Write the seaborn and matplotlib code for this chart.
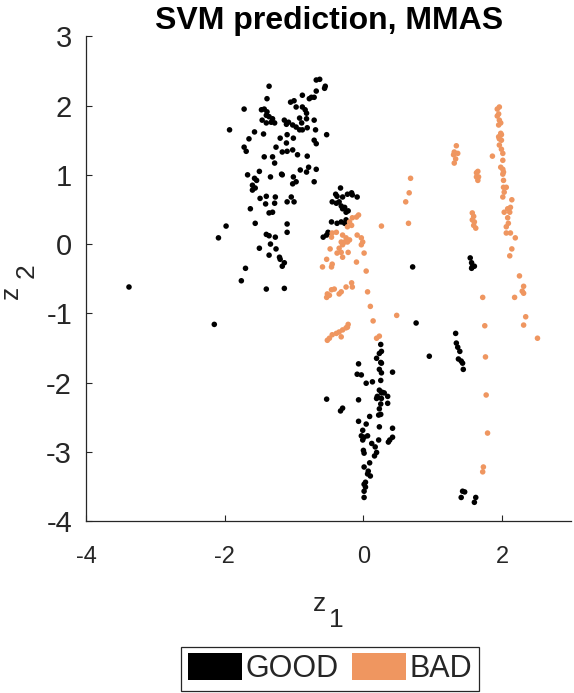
import numpy as np
import pandas as pd
import matplotlib
matplotlib.use("Agg")
import matplotlib.pyplot as plt
from matplotlib.patches import Patch
import seaborn as sns

# ---- data ----
good_z1 = [-0.63, -0.68, -0.55, -0.56, -0.68, -0.88, -0.75, -0.71, -0.78, -1.36,
           -1.39, -1.05, -1.00, -1.72, -0.97, -0.88, -0.84, -0.82, -1.47, -1.43,
           -1.39, -1.40, -1.36, -1.46, -1.40, -1.33, -1.28, -1.31, -1.14, -1.08,
           -1.11, -0.92, -0.82, -0.71, -1.02, -0.97, -0.92, -0.88, -0.81, -0.89,
           -1.93, -1.57, -1.44, -1.65, -1.20, -1.10, -1.11, -1.01, -0.69, -0.53,
           -0.71, -0.68, -1.72, -1.69, -1.26, -1.17, -1.10, -1.02, -1.43, -1.31,
           -0.95, -0.81, -1.28, -1.50, -0.91, -0.82, -0.79, -0.68, -1.67, -1.57,
           -1.54, -1.60, -1.60, -1.56, -1.34, -1.18, -1.17, -1.01, -0.97, -1.02,
           -0.71, -1.49, -1.40, -1.27, -1.28, -1.41, -1.04, -1.10, -1.00, -1.63,
           -1.36, -1.31, -1.56, -1.10, -1.10, -1.98, -2.09, -1.40, -1.36, -1.27,
           -1.34, -1.50, -1.26, -1.36, -1.21, -1.20, -1.14, -1.17, -1.70, -1.76,
           -1.40, -1.14, -3.38, -2.15,
           -0.33, -0.40, -0.38, -0.30, -0.23, -0.17, -0.16, -0.09, -0.45, -0.39,
           -0.35, -0.32, -0.30, -0.25, -0.22, -0.27, -0.46, -0.38, -0.32, -0.27,
           -0.25, -0.51, -0.53, -0.58, 0.71, 0.76, 0.25,
           0.26, 0.23, -0.07, 0.19, 0.25, 0.26, 0.23, 0.26, 0.42, -0.09,
           -0.03, 0.25, 0.04, 0.13, 0.23, 0.27, 0.26, 0.30, 0.35, 0.20,
           0.19, 0.26, -0.53, -0.07, 0.35, 0.25, 0.23, 0.25, 0.22, -0.30,
           -0.33, 0.09, -0.07, 0.04, 0.23, 0.42, -0.01, -0.03, -0.01, 0.06,
           0.01, 0.12, 0.22, 0.42, 0.38, 0.36, 0.17, 0.19, 0.16, 0.00,
           0.01, 0.09, 0.01, 0.07, 0.10, 0.06, 0.03, 0.01, 0.03, 0.01,
           0.01,
           1.54, 1.56, 1.57, 1.60, 1.56, 1.33, 1.34, 1.36, 1.39, 1.37,
           1.41, 1.43, 1.44, 0.95, 1.43, 1.41, 1.46, 1.62, 1.60]
good_z2 = [2.38, 2.37, 2.28, 2.25, 2.21, 2.15, 2.12, 2.12, 2.10, 2.28,
           2.10, 2.05, 2.07, 1.95, 1.98, 1.98, 1.94, 1.89, 1.94, 1.95,
           1.91, 1.86, 1.84, 1.79, 1.75, 1.76, 1.75, 1.81, 1.79, 1.76,
           1.73, 1.82, 1.81, 1.79, 1.72, 1.69, 1.65, 1.65, 1.68, 1.75,
           1.65, 1.62, 1.59, 1.52, 1.53, 1.58, 1.46, 1.53, 1.65, 1.58,
           1.50, 1.45, 1.40, 1.34, 1.40, 1.33, 1.34, 1.36, 1.26, 1.26,
           1.29, 1.27, 1.17, 1.05, 1.07, 1.04, 1.11, 1.08, 1.00, 0.95,
           0.92, 0.85, 0.78, 0.81, 0.97, 1.01, 1.00, 0.97, 0.90, 0.87,
           0.90, 0.66, 0.69, 0.68, 0.59, 0.58, 0.68, 0.61, 0.61, 0.51,
           0.45, 0.46, 0.30, 0.29, 0.17, 0.26, 0.09, 0.14, 0.12, 0.10,
           0.00, -0.06, -0.07, -0.16, -0.19, -0.22, -0.27, -0.32, -0.35, -0.53,
           -0.65, -0.64, -0.62, -1.16,
           0.81, 0.72, 0.69, 0.68, 0.72, 0.74, 0.71, 0.68, 0.61, 0.59,
           0.61, 0.55, 0.51, 0.46, 0.48, 0.53, 0.32, 0.30, 0.32, 0.30,
           0.35, 0.17, 0.13, 0.10, -0.33, -1.14, -1.45,
           -1.55, -1.58, -1.73, -1.65, -1.71, -1.72, -1.81, -1.86, -1.85, -1.88,
           -1.89, -1.97, -2.01, -1.99, -2.11, -2.14, -2.15, -2.15, -2.20, -2.20,
           -2.23, -2.23, -2.24, -2.25, -2.30, -2.31, -2.38, -2.46, -2.47, -2.37,
           -2.41, -2.49, -2.56, -2.60, -2.64, -2.66, -2.69, -2.77, -2.83, -2.77,
           -2.79, -2.88, -2.83, -2.79, -2.83, -2.86, -2.93, -3.01, -3.06, -2.98,
           -3.02, -3.16, -3.22, -3.28, -3.35, -3.32, -3.44, -3.47, -3.51, -3.57,
           -3.66,
           -0.20, -0.27, -0.33, -0.32, -0.35, -1.29, -1.43, -1.49, -1.55, -1.66,
           -1.69, -1.72, -1.81, -1.62, -3.57, -3.66, -3.58, -3.66, -3.73]

bad_z1 = [0.68, 0.66, 0.61, 0.65, 0.26, -0.07, -0.10, -0.16, -0.20, -0.17,
          -0.23, -0.39, -0.45, -0.46, -0.30, -0.25, -0.23, -0.27, -0.20, -0.32,
          -0.30, -0.09, -0.03, -0.01, -0.03, 0.01, -0.48, -0.35, -0.32, -0.38,
          -0.30, -0.22, -0.53, -0.45, -0.59, -0.46, -0.10, 0.04, -0.17, -0.16,
          -0.25, -0.32, -0.35, -0.42, -0.46, -0.52, -0.53, -0.49, 0.06, 0.10,
          0.14, 0.48, -0.22, -0.23, -0.25, -0.30, -0.35, -0.39, -0.45, -0.49,
          -0.52, -0.32, 0.23, 0.19,
          1.96, 1.93, 1.95, 1.93, 1.96, 1.98, 1.95, 1.98, 1.95, 1.99,
          1.96, 1.99, 1.96, 1.99, 2.01, 1.86, 2.01, 1.98, 2.01, 2.02,
          2.01, 2.02, 2.02, 2.06, 2.03, 2.01, 2.14, 2.12, 2.08, 2.03,
          2.11, 2.08, 2.09, 2.06, 2.06, 2.12, 2.19, 2.14, 2.11, 2.25,
          2.31, 2.29, 2.31, 2.18, 2.34, 2.31, 2.51,
          1.34, 1.31, 1.36, 1.30, 1.33, 1.31, 1.65, 1.63, 1.66, 1.65,
          1.63, 1.57, 1.59, 1.57, 1.60, 1.59, 1.62, 1.72, 1.75, 1.76,
          1.77, 1.79, 1.73, 1.72]
bad_z2 = [0.95, 0.74, 0.61, 0.30, 0.26, 0.42, 0.39, 0.38, 0.32, 0.27,
          0.25, 0.17, 0.16, 0.10, 0.13, 0.09, 0.03, 0.03, 0.06, 0.03,
          -0.01, 0.13, 0.09, 0.03, -0.01, -0.13, -0.07, -0.06, -0.12, -0.13,
          -0.19, -0.12, -0.22, -0.29, -0.33, -0.33, -0.26, -0.39, -0.56, -0.62,
          -0.62, -0.69, -0.72, -0.65, -0.66, -0.72, -0.77, -0.74, -0.69, -0.90,
          -1.11, -1.03, -1.16, -1.20, -1.21, -1.24, -1.27, -1.29, -1.31, -1.36,
          -1.39, -1.34, -1.33, -1.36,
          1.98, 1.95, 1.88, 1.85, 1.79, 1.75, 1.72, 1.60, 1.55, 1.58,
          1.52, 1.50, 1.43, 1.37, 1.31, 1.27, 1.21, 1.11, 1.08, 1.04,
          1.01, 0.92, 0.82, 0.82, 0.75, 0.68, 0.64, 0.53, 0.51, 0.46,
          0.46, 0.38, 0.30, 0.25, 0.16, 0.16, 0.09, -0.07, -0.17, -0.46,
          -0.61, -0.68, -0.71, -0.77, -1.05, -1.17, -1.36,
          1.42, 1.33, 1.31, 1.29, 1.23, 1.17, 1.05, 1.03, 0.97, 0.92,
          0.97, 0.45, 0.40, 0.35, 0.32, 0.27, 0.23, -0.77, -1.18, -1.63,
          -2.18, -2.73, -3.22, -3.29]

classes = ["GOOD", "BAD"]
class_colors = ["#000000", "#EF9660"]
x_ticks = [-4, -2, 0, 2]
y_ticks = [-4, -3, -2, -1, 0, 1, 2, 3]
title_text = "SVM prediction, MMAS"

df = pd.concat([
    pd.DataFrame({"z1": good_z1, "z2": good_z2, "cls": classes[0]}),
    pd.DataFrame({"z1": bad_z1, "z2": bad_z2, "cls": classes[1]}),
], ignore_index=True)

# ---- styling ----
sns.set_style("white")
plt.rcParams["font.family"] = ["Liberation Sans", "DejaVu Sans"]
ink = "#262626"

fig = plt.figure(figsize=(5.74, 6.93), dpi=100)
ax = fig.add_axes([0.1498, 0.2482, 0.8458, 0.6993])

sns.scatterplot(data=df, x="z1", y="z2", hue="cls",
                palette=dict(zip(classes, class_colors)),
                s=16, linewidth=0, edgecolor="none", ax=ax, legend=False)

ax.set_xlim(-4, 3)
ax.set_ylim(-4, 3)
ax.set_xticks(x_ticks)
ax.set_yticks(y_ticks)
ax.set_xticklabels([str(v) for v in x_ticks])
ax.set_yticklabels([str(v) for v in y_ticks])
for s in ["top", "right"]:
    ax.spines[s].set_visible(False)
for s in ["left", "bottom"]:
    ax.spines[s].set_color(ink)
    ax.spines[s].set_linewidth(0.9)
ax.tick_params(axis="both", which="major", direction="in", length=4.3,
               width=0.8, color=ink, labelcolor=ink,
               bottom=True, left=True, top=False, right=False)
ax.tick_params(axis="x", labelsize=17, pad=18)
ax.tick_params(axis="y", labelsize=21, pad=10)
ax.set_xlabel("")
ax.set_ylabel("")

ax.set_title(title_text, fontsize=23, fontweight="bold", color="black", pad=5)

# axis labels z_1 and z_2 (subscript drawn at full size as in the reference)
fig.text(319 / 574, 1 - 611 / 693, "z", fontsize=19, color=ink,
         ha="center", va="baseline")
fig.text(336 / 574, 1 - 627 / 693, "1", fontsize=19, color=ink,
         ha="center", va="baseline")
fig.text(18 / 574, 1 - 292 / 693, "z", fontsize=19, color=ink, rotation=90,
         rotation_mode="anchor", ha="center", va="baseline")
fig.text(34 / 574, 1 - 271 / 693, "2", fontsize=19, color=ink, rotation=90,
         rotation_mode="anchor", ha="center", va="baseline")

handles = [Patch(facecolor=c, edgecolor="none") for c in class_colors]
leg = fig.legend(handles, classes, loc="center", bbox_to_anchor=(0.575, 0.035),
                 ncol=2, fontsize=22, handlelength=1.76, handleheight=0.98,
                 handletextpad=0.12, columnspacing=0.45, borderpad=0.22,
                 borderaxespad=0, frameon=True, fancybox=False,
                 edgecolor=ink, framealpha=1)
leg.get_frame().set_linewidth(0.9)

fig.savefig("out.png", dpi=100)
